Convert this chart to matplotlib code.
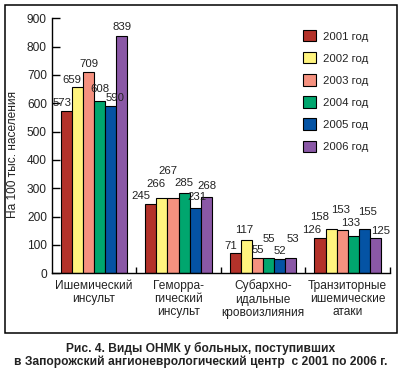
import matplotlib
matplotlib.use("Agg")
import matplotlib.pyplot as plt
from matplotlib.patches import Rectangle, Patch
import numpy as np

plt.rcParams['font.family'] = ['Liberation Sans', 'DejaVu Sans']

categories = ["Ишемический\nинсульт", "Геморра-\nгический\nинсульт",
              "Субархно-\nидальные\nкровоизлияния", "Транзиторные\nишемические\nатаки"]
years = ["2001 год", "2002 год", "2003 год", "2004 год", "2005 год", "2006 год"]
v2001 = [573, 245, 71, 126]
v2002 = [659, 266, 117, 158]
v2003 = [709, 267, 55, 153]
v2004 = [608, 285, 55, 133]
v2005 = [590, 231, 52, 155]
v2006 = [839, 268, 53, 125]
series = [v2001, v2002, v2003, v2004, v2005, v2006]
yticks = [0, 100, 200, 300, 400, 500, 600, 700, 800, 900]
ylabel = "На 100 тыс. населения"
caption1 = "Рис. 4. Виды ОНМК у больных, поступивших"
caption2 = "в Запорожский ангионеврологический центр  с 2001 по 2006 г."

colors = ['#B3322A', '#FFF47E', '#F5917F', '#00A66E', '#0453A4', '#8A58A6']

# label offsets in pixels (dx, dy above bar top), per series x category
label_dx = [[-4, -10, -5, -8], [-5, -6, -2, -11], [1, -5, 0, -2],
            [0, 0, 0, -3], [5, 2, 0, 3], [0, 1, 2, 5]]
label_dy = [[8, 8, 7, 8], [7, 14, 10, 12], [8, 27, 8, 20],
            [12, 10, 19, 13], [8, 11, 8, 17], [9, 11, 19, 7]]

W, H = 405, 377
fig = plt.figure(figsize=(W / 100, H / 100), dpi=100)
ax = fig.add_axes([51.7 / W, 1 - 273.3 / H, (390 - 51.7) / W, (273.3 - 18.3) / H])

x = np.arange(len(categories))
n = len(series)
bw = 0.131
px2pt = 0.72
for i, vals in enumerate(series):
    pos = x - bw * n / 2 + bw * (i + 0.5)
    ax.bar(pos, vals, width=bw, color=colors[i], edgecolor='black', linewidth=0.8,
           label=years[i], zorder=2)
    for j, v in enumerate(vals):
        ax.annotate(str(v), (pos[j], v), xytext=(label_dx[i][j] * px2pt, label_dy[i][j] * px2pt),
                    textcoords='offset points', ha='center', va='center', fontsize=8.2,
                    color='#222222', zorder=3)

ax.set_xlim(-0.5, len(categories) - 0.5)
ax.set_ylim(0, 900)
ax.set_yticks(yticks)
ax.set_xticks(x)
ax.set_xticklabels(categories, fontsize=8.6, linespacing=1.12, color='#222222')
ax.set_xticks(np.arange(len(categories)) + 0.5, minor=True)
ax.tick_params(axis='x', which='major', length=0, pad=4.5)
ax.tick_params(axis='x', which='minor', direction='in', length=4.3, width=1.0)
ax.tick_params(axis='y', direction='in', length=6, width=1.0, labelsize=8.6, pad=3.5,
               labelcolor='#222222')
for s in ['top', 'right']:
    ax.spines[s].set_visible(False)
for s in ['left', 'bottom']:
    ax.spines[s].set_linewidth(1.0)

fig.text(13 / W, 1 - 155 / H, ylabel, rotation=90, ha='center', va='center', fontsize=8.6,
         color='#222222')

handles = [Patch(facecolor=colors[i], edgecolor='black', linewidth=0.8) for i in range(n)]
fig.legend(handles, years, loc='upper left', bbox_to_anchor=(303.3 / W, 1 - 30 / H),
           frameon=False, fontsize=8.2, handlelength=1.15, handleheight=1.15,
           labelspacing=0.93, handletextpad=0.55, borderpad=0, borderaxespad=0,
           labelcolor='#222222')

fig.add_artist(Rectangle((5 / W, 1 - 333 / H), (397 - 5) / W, (333 - 5) / H,
                         transform=fig.transFigure, fill=False, lw=1.1, ec='black'))

fig.text(201 / W, 1 - 348.5 / H, caption1, ha='center', va='center', fontsize=8.65,
         fontweight='bold', color='#222222')
fig.text(201 / W, 1 - 362 / H, caption2, ha='center', va='center', fontsize=8.65,
         fontweight='bold', color='#222222')

fig.savefig("out.png", dpi=100)
